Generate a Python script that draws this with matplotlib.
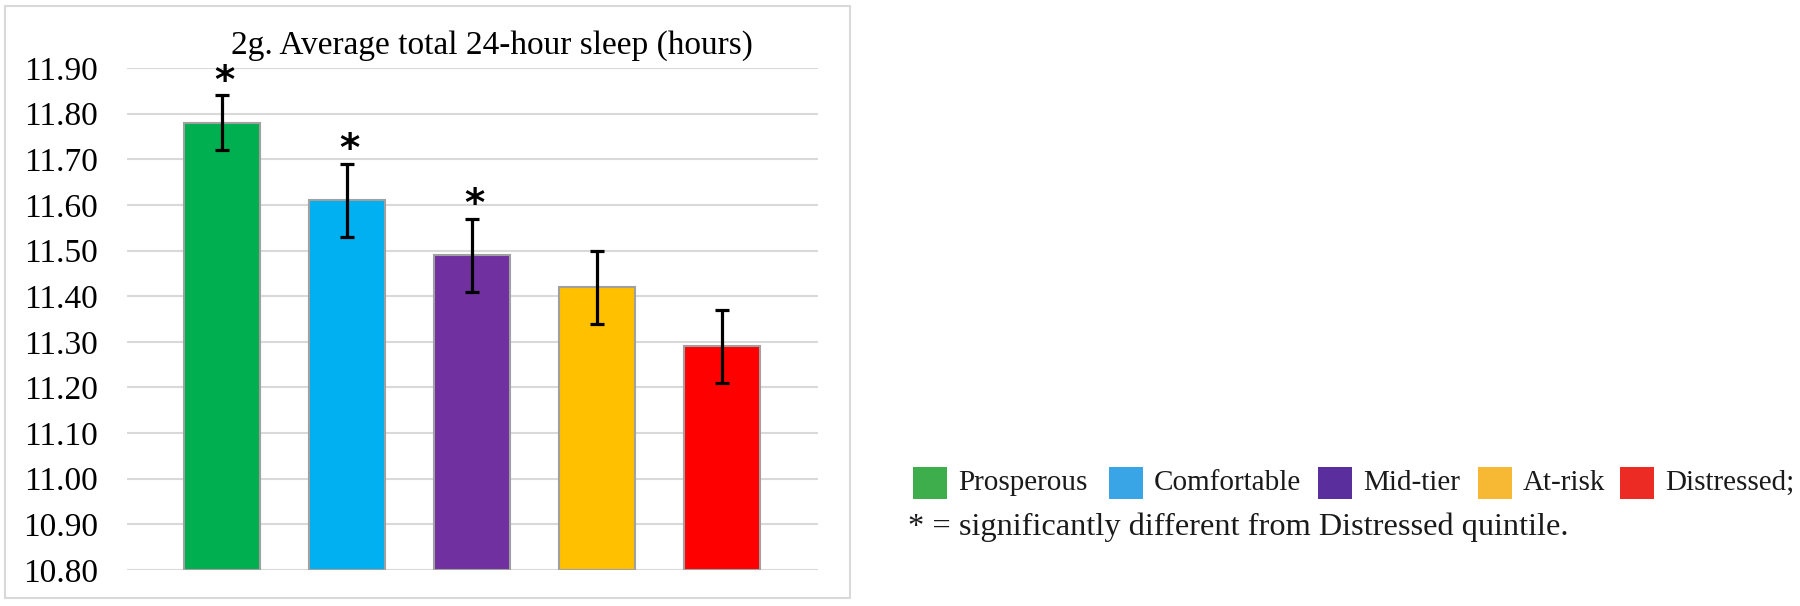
import numpy as np
import matplotlib
matplotlib.use("Agg")
import matplotlib.pyplot as plt
from matplotlib.patches import Rectangle
from matplotlib.ticker import FormatStrFormatter, MultipleLocator

# ---- data ----
categories = ["Prosperous", "Comfortable", "Mid-tier", "At-risk", "Distressed"]
means = [11.78, 11.61, 11.49, 11.42, 11.29]
err_low = [11.72, 11.53, 11.41, 11.34, 11.21]
err_high = [11.84, 11.69, 11.57, 11.50, 11.37]
significant = [True, True, True, False, False]
legend_labels = ["Prosperous", "Comfortable", "Mid-tier", "At-risk", "Distressed;"]
title = "2g. Average total 24-hour sleep (hours)"
footnote = "* = significantly different from Distressed quintile."
y_min, y_max, y_step = 10.80, 11.90, 0.10

bar_colors = ["#00B050", "#00B0F0", "#7030A0", "#FFC000", "#FF0000"]
legend_colors = ["#3EAD4B", "#3AA5E6", "#5A2E9C", "#F7B934", "#EC2B25"]

W, H = 1800, 606
fig = plt.figure(figsize=(W / 100, H / 100), dpi=100)
serif = "Liberation Serif"

def fx(px):
    return px / W

def fy(py):
    return (H - py) / H

# chart border
fig.patches.append(Rectangle((fx(5), fy(598)), fx(850) - fx(5), fy(6) - fy(598),
                             transform=fig.transFigure, fill=False,
                             edgecolor="#D9D9D9", linewidth=1.5, zorder=0))

ax = fig.add_axes([fx(127), fy(570), fx(818) - fx(127), fy(68) - fy(570)])
x = np.arange(len(categories))
means_a = np.array(means)
yerr = np.vstack([means_a - np.array(err_low), np.array(err_high) - means_a])

ax.bar(x, means_a - y_min, bottom=y_min, width=0.608, color=bar_colors,
       edgecolor="#A0A0A0", linewidth=1.5, zorder=3)
ax.errorbar(x, means_a, yerr=yerr, fmt="none", ecolor="black", elinewidth=2.3,
            capsize=4.8, capthick=2.3, zorder=4)

for xi, hi, sig in zip(x, err_high, significant):
    if sig:
        ax.annotate("*", xy=(xi, hi), xytext=(2, -4), textcoords="offset points",
                    ha="center", va="bottom", fontsize=28, fontweight="bold",
                    family="DejaVu Sans", color="black", zorder=5)

ax.set_xlim(-0.76, 4.768)
ax.set_ylim(y_min, y_max)
ax.yaxis.set_major_locator(MultipleLocator(y_step))
ax.yaxis.set_major_formatter(FormatStrFormatter("%.2f"))
ax.set_xticks([])
ax.tick_params(axis="y", length=0, pad=21, labelsize=24)
for lab in ax.get_yticklabels():
    lab.set_family(serif)
ax.grid(axis="y", color="#D9D9D9", linewidth=1.5, zorder=0)
ax.set_axisbelow(True)
for s in ax.spines.values():
    s.set_visible(False)

fig.text(fx(491.5), fy(54), title, ha="center", va="baseline",
         fontsize=24, family=serif, color="black")

# legend
swatch_x = [913, 1109, 1318, 1478, 1620]
for sx, col, lab in zip(swatch_x, legend_colors, legend_labels):
    fig.patches.append(Rectangle((fx(sx), fy(499)), fx(34), fy(467) - fy(499),
                                 transform=fig.transFigure, facecolor=col,
                                 edgecolor="none"))
    fig.text(fx(sx + 45), fy(490), lab, ha="left", va="baseline",
             fontsize=21, family=serif, color="#1a1a1a")

fig.text(fx(908), fy(535), footnote, ha="left", va="baseline",
         fontsize=23.3, family=serif, color="#1a1a1a")

fig.savefig("out.png", dpi=100)
